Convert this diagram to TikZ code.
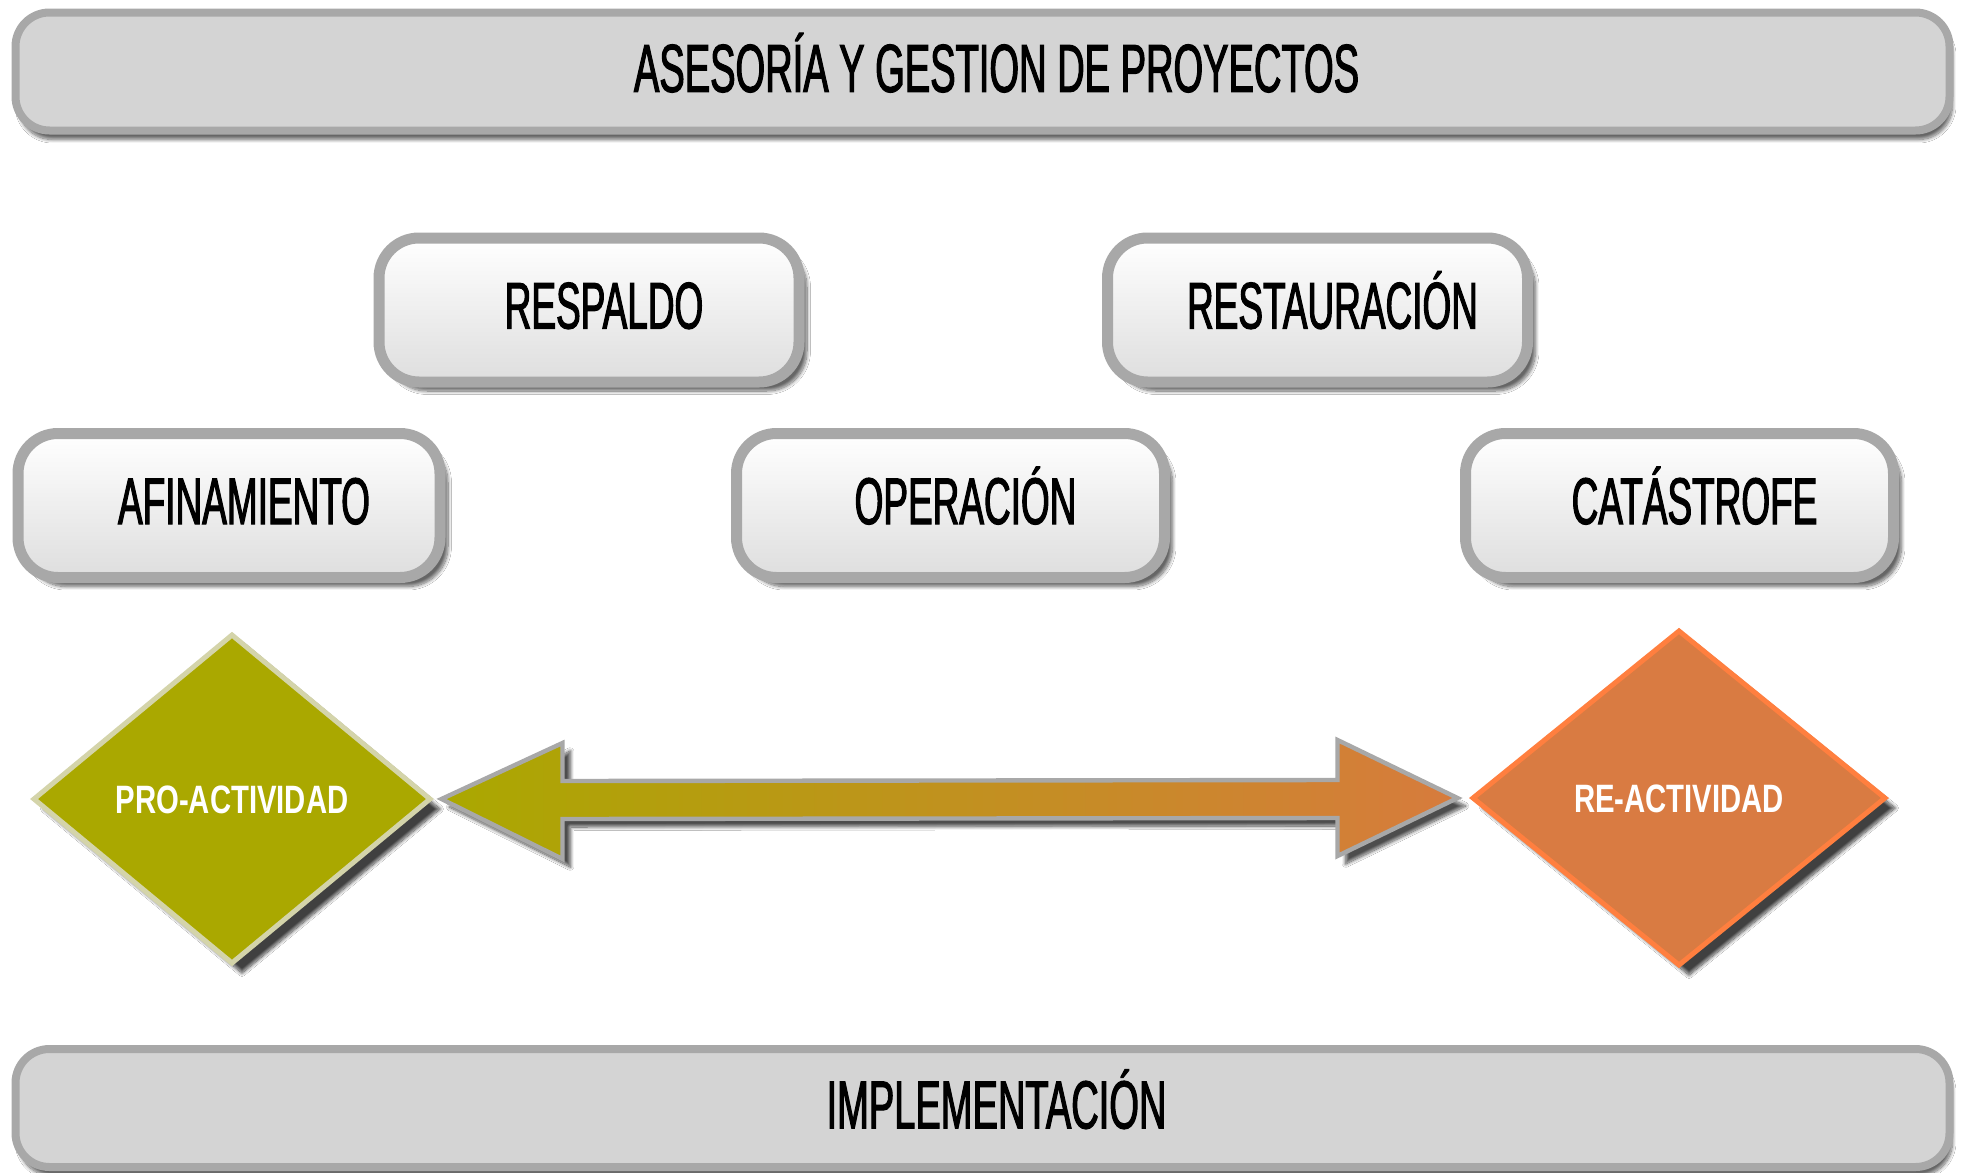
\documentclass[tikz,border=0pt]{standalone}
\usepackage{fontspec}
\newfontfamily\condf[FakeStretch=0.56,FakeBold=1.6]{Liberation Sans}
\newfontfamily\diamf[FakeStretch=0.74]{Liberation Sans}
\usetikzlibrary{shapes.geometric,shadows.blur,calc}
\definecolor{barfill}{HTML}{D4D4D4}
\definecolor{bordergray}{HTML}{A8A8A8}
\definecolor{olive}{HTML}{AAA800}
\definecolor{olivelight}{HTML}{D4D4AA}
\definecolor{orangefill}{HTML}{D97B42}
\definecolor{orangeline}{HTML}{FF7F3F}
\definecolor{arrowend}{HTML}{D77B3D}
\tikzset{
  bar/.style={draw=bordergray, line width=4pt, fill=barfill, rounded corners=17pt,
    minimum width=967pt, minimum height=59pt, inner sep=0pt,
    text height=20.4pt, text depth=0pt,
    font=\condf\fontsize{34}{34}\selectfont,
    blur shadow={shadow xshift=1.5pt, shadow yshift=-4.5pt, shadow blur steps=12, shadow opacity=60}},
  stepbox/.style={draw=bordergray, line width=5.5pt, top color=white, bottom color=black!13,
    rounded corners=20pt, minimum height=72pt, inner sep=0pt,
    text height=18.5pt, text depth=0pt,
    font=\condf\fontsize{33}{33}\selectfont,
    blur shadow={shadow xshift=4pt, shadow yshift=-4.5pt, shadow blur steps=12, shadow opacity=60}},
  dia/.style={diamond, line width=2.5pt, inner sep=0pt, text=white,
    text height=14pt, text depth=0pt,
    font=\diamf\bfseries\fontsize{19.8}{19.8}\selectfont,
    blur shadow={shadow xshift=5pt, shadow yshift=-5pt, shadow blur steps=12, shadow opacity=75}}
}
\begin{document}
\begin{tikzpicture}[x=0.5pt,y=-0.5pt]
\fill[white] (0,0) rectangle (1977,1173);
\useasboundingbox (0,0) rectangle (1977,1173);
\node[bar] (top) at (982.5,71.5) {\hspace*{14pt}ASESORÍA Y GESTION DE PROYECTOS};
\node[bar] (bottom) at (982.5,1108) {\hspace*{14pt}IMPLEMENTACIÓN};
\node[stepbox, minimum width=210pt] (resp) at (589,310) {\hspace*{15pt}RESPALDO};
\node[stepbox, minimum width=210pt] (rest) at (1317.5,310) {\hspace*{15pt}RESTAURACIÓN};
\node[stepbox, minimum width=211pt] (afin) at (229,505.5) {\hspace*{15pt}AFINAMIENTO};
\node[stepbox, minimum width=214pt] (oper) at (950.5,505.5) {\hspace*{15pt}OPERACIÓN};
\node[stepbox, minimum width=214pt] (cata) at (1679.5,505.5) {\hspace*{15pt}CATÁSTROFE};
\node[dia, draw=olivelight, fill=olive, minimum width=199pt, minimum height=165pt] (pro) at (232,799) {PRO-ACTIVIDAD};
\node[dia, draw=orangeline, fill=orangefill, minimum width=207pt, minimum height=168pt] (re) at (1679,798) {RE-ACTIVIDAD};
\coordinate (lt) at ($(pro.east)+(8,0)$);
\coordinate (rt) at ($(re.west)+(-12,0)$);
\draw[bordergray, line width=2.2pt, left color=olive, right color=arrowend,
  blur shadow={shadow xshift=4pt, shadow yshift=-4pt, shadow blur steps=12, shadow opacity=70}]
  (lt) -- ++(121,-56) -- ++(0,38) -- ($(rt)+(-120,-18)$) -- ++(0,-40) -- (rt)
  -- ($(rt)+(-120,58)$) -- ++(0,-38) -- ($(lt)+(121,20)$) -- ++(0,40) -- cycle;
\end{tikzpicture}
\end{document}
